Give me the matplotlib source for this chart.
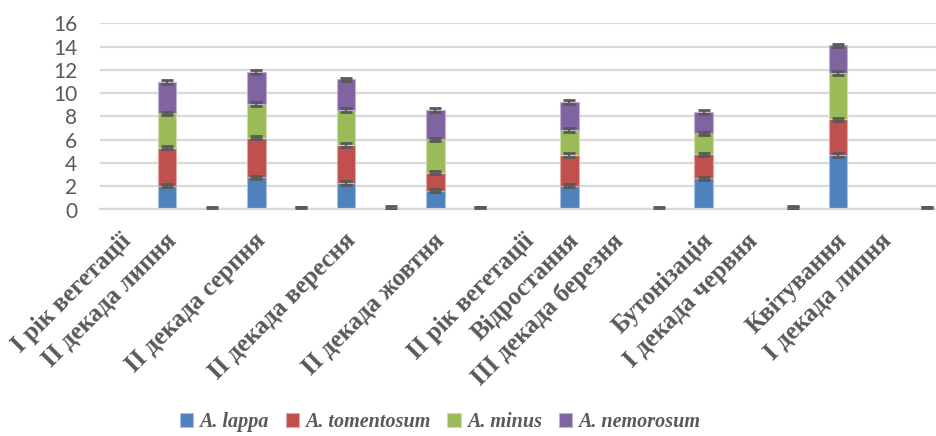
import matplotlib
matplotlib.use('Agg')
import matplotlib.pyplot as plt
import matplotlib.transforms as mtransforms
import numpy as np

categories = ['І рік вегетації', 'ІІ декада липня', '', 'ІІ декада серпня', '',
              'ІІ декада вересня', '', 'ІІ декада жовтня', '', 'ІІ рік вегетації',
              'Відростання', 'ІІІ декада березня', '', 'Бутонізація',
              'І декада червня', '', 'Квітування', 'І декада липня', '']
series_names = ['A. lappa', 'A. tomentosum', 'A. minus', 'A. nemorosum']
lappa = [0, 2.05, 0.10, 2.77, 0, 2.28, 0, 1.62, 0, 0, 2.05, 0, 0, 2.68, 0, 0, 4.68, 0, 0]
tomentosum = [0, 3.26, 0, 3.40, 0, 3.26, 0.15, 1.54, 0, 0, 2.63, 0, 0, 2.06, 0, 0.08, 3.07, 0, 0]
minus = [0, 2.95, 0, 2.89, 0.04, 3.01, 0, 2.87, 0.05, 0, 2.15, 0, 0, 1.81, 0, 0, 4.00, 0, 0.05]
nemorosum = [0, 2.69, 0, 2.75, 0.03, 2.63, 0, 2.52, 0.03, 0, 2.41, 0, 0.08, 1.83, 0, 0.04, 2.35, 0, 0.04]
err = [0.15, 0.15, 0.15, 0.15]

colors = ['#4F81BD', '#C0504D', '#9BBB59', '#8064A2']
edges = ['#A9C1E0', '#E0A8A6', '#CDDDAC', '#BFB1D0']
grey = '#595959'

fig = plt.figure(figsize=(9.37, 4.36), dpi=100)
ax = fig.add_axes([100 / 937, 1 - 209.5 / 436, 837 / 937, 186.2 / 436])

x = np.arange(len(categories))
bottom = np.zeros(len(categories))
for vals, name, c, ec, e in zip([lappa, tomentosum, minus, nemorosum], series_names,
                                colors, edges, err):
    vals = np.array(vals)
    ax.bar(x, vals, 0.41, bottom=bottom, color=c, edgecolor=ec, linewidth=0.8,
           label=name, zorder=2)
    top = bottom + vals
    m = vals > 0
    ax.errorbar(x[m], top[m], yerr=e, fmt='none', ecolor=grey, elinewidth=1.5,
                capsize=4.5, capthick=2, zorder=3)
    bottom = top

ax.set_ylim(0, 16)
ax.set_xlim(-0.5, 18.22)
ax.set_yticks(range(0, 17, 2))
ax.grid(axis='y', color='#D9D9D9', linewidth=1.6, zorder=0)
for s in ['top', 'right', 'left']:
    ax.spines[s].set_visible(False)
ax.spines['bottom'].set_color('#D9D9D9')
ax.spines['bottom'].set_linewidth(1.6)
ax.tick_params(axis='both', length=0, colors=grey)
ax.tick_params(axis='y', labelsize=15, pad=16.5)
for t in ax.get_yticklabels():
    t.set_family('Lato')

ax.set_xticks(x)
ax.set_xticklabels(categories, rotation=45, ha='right', va='center',
                   rotation_mode='anchor', family='Liberation Serif',
                   fontweight='bold', fontsize=18, color=grey)
ax.tick_params(axis='x', pad=20)
shift = mtransforms.ScaledTranslation(4 / 72, 0, fig.dpi_scale_trans)
for t in ax.get_xticklabels():
    t.set_transform(t.get_transform() + shift)

leg = fig.legend(loc='center', bbox_to_anchor=(440 / 937, 1 - 422 / 436), ncol=4,
                 frameon=False, handlelength=0.65, handleheight=0.65, handletextpad=0.3,
                 columnspacing=0.85,
                 prop={'family': 'Liberation Serif', 'weight': 'bold',
                       'style': 'italic', 'size': 14.5})
for t in leg.get_texts():
    t.set_color(grey)

fig.savefig('out.png', dpi=100)
